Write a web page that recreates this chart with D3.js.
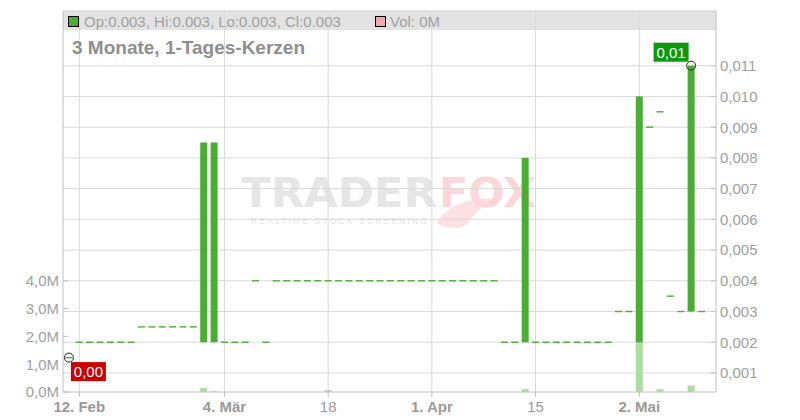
<!DOCTYPE html>
<html><head><meta charset="utf-8">
<script src="https://cdn.jsdelivr.net/npm/d3@7"></script>
<style>html,body{margin:0;padding:0;background:#fff}svg{display:block}</style>
</head><body>
<svg id="chart" width="800" height="420"></svg>
<script>
const dates = ["2025-02-11","2025-02-12","2025-02-13","2025-02-14","2025-02-17","2025-02-18","2025-02-19","2025-02-20","2025-02-21","2025-02-24","2025-02-25","2025-02-26","2025-02-27","2025-02-28",
"2025-03-03","2025-03-04","2025-03-05","2025-03-06","2025-03-07","2025-03-10","2025-03-11","2025-03-12","2025-03-13","2025-03-14","2025-03-17","2025-03-18","2025-03-19","2025-03-20","2025-03-21","2025-03-24","2025-03-25","2025-03-26","2025-03-27","2025-03-28","2025-03-31",
"2025-04-01","2025-04-02","2025-04-03","2025-04-04","2025-04-07","2025-04-08","2025-04-09","2025-04-10","2025-04-11","2025-04-14","2025-04-15","2025-04-16","2025-04-17","2025-04-22","2025-04-23","2025-04-24","2025-04-25","2025-04-28","2025-04-29","2025-04-30",
"2025-05-02","2025-05-05","2025-05-06","2025-05-07","2025-05-08","2025-05-09","2025-05-12"];
const opens = [0.0015,0.002,0.002,0.002,0.002,0.002,0.002,0.0025,0.0025,0.0025,0.0025,0.0025,0.0025,0.002,
0.002,0.002,0.002,0.002,0.004,0.002,0.004,0.004,0.004,0.004,0.004,0.004,0.004,0.004,0.004,0.004,0.004,0.004,0.004,0.004,0.004,
0.004,0.004,0.004,0.004,0.004,0.004,0.004,0.002,0.002,0.002,0.002,0.002,0.002,0.002,0.002,0.002,0.002,0.002,0.003,0.003,
0.002,0.009,0.0095,0.0035,0.003,0.003,0.003];
const highs = [0.0015,0.002,0.002,0.002,0.002,0.002,0.002,0.0025,0.0025,0.0025,0.0025,0.0025,0.0025,0.0085,
0.0085,0.002,0.002,0.002,0.004,0.002,0.004,0.004,0.004,0.004,0.004,0.004,0.004,0.004,0.004,0.004,0.004,0.004,0.004,0.004,0.004,
0.004,0.004,0.004,0.004,0.004,0.004,0.004,0.002,0.002,0.008,0.002,0.002,0.002,0.002,0.002,0.002,0.002,0.002,0.003,0.003,
0.010,0.009,0.0095,0.0035,0.003,0.011,0.003];
const lows = [0.0015,0.002,0.002,0.002,0.002,0.002,0.002,0.0025,0.0025,0.0025,0.0025,0.0025,0.0025,0.002,
0.002,0.002,0.002,0.002,0.004,0.002,0.004,0.004,0.004,0.004,0.004,0.004,0.004,0.004,0.004,0.004,0.004,0.004,0.004,0.004,0.004,
0.004,0.004,0.004,0.004,0.004,0.004,0.004,0.002,0.002,0.002,0.002,0.002,0.002,0.002,0.002,0.002,0.002,0.002,0.003,0.003,
0.002,0.009,0.0095,0.0035,0.003,0.003,0.003];
const closes = [0.0015,0.002,0.002,0.002,0.002,0.002,0.002,0.0025,0.0025,0.0025,0.0025,0.0025,0.0025,0.0085,
0.0085,0.002,0.002,0.002,0.004,0.002,0.004,0.004,0.004,0.004,0.004,0.004,0.004,0.004,0.004,0.004,0.004,0.004,0.004,0.004,0.004,
0.004,0.004,0.004,0.004,0.004,0.004,0.004,0.002,0.002,0.008,0.002,0.002,0.002,0.002,0.002,0.002,0.002,0.002,0.003,0.003,
0.010,0.009,0.0095,0.0035,0.003,0.011,0.003];
const volumes = [0,0,0,0,0,0,0,0,0,0,0,0,0,140000,
30000,0,0,0,0,0,0,0,0,0,0,70000,0,0,0,0,0,0,0,0,0,
0,0,0,0,0,0,0,0,0,100000,0,0,0,0,0,0,0,0,0,0,
1800000,0,100000,0,0,230000,0];
const priceTicks = [0.001,0.002,0.003,0.004,0.005,0.006,0.007,0.008,0.009,0.010,0.011];
const volumeTicks = [0,1000000,2000000,3000000,4000000];
const xTickDates = ["2025-02-12","2025-03-04","2025-03-18","2025-04-01","2025-04-15","2025-05-02"];
const xTickLabels = ["12. Feb","4. Mär","18","1. Apr","15","2. Mai"];
const xTickBold = [true,true,false,true,false,true];
const legendText = "Op:0.003, Hi:0.003, Lo:0.003, Cl:0.003";
const volLegendText = "Vol: 0M";
const titleText = "3 Monate, 1-Tages-Kerzen";

const L = 63, R = 716, T = 11, B = 392;
const svg = d3.select("#chart");
const font = "'Liberation Sans', Arial, sans-serif";
const green = "#4bae34", volGreen = "#aedca5", volGray = "#c6c6c6", grid = "#dadada", axisC = "#c0c0c0", textC = "#a0a0a0";

const x = d3.scaleLinear().domain([-0.57, 62.4]).range([L, R]);
const y = d3.scaleLinear().domain([0, 0.011]).range([403.7, 65.7]);
const yv = d3.scaleLinear().domain([0, 4000000]).range([B, 280.7]);
const fmtP = v => d3.format(".3f")(v).replace(".", ",");
const fmtV = v => d3.format(".1f")(v/1e6).replace(".", ",") + "M";

// legend bar
svg.append("rect").attr("x", L).attr("y", T).attr("width", R-L).attr("height", 19).attr("fill", "#e3e3e3");

// watermark
const wm = svg.append("g");
wm.append("text").attr("x", 241).attr("y", 207).attr("font-family","'DejaVu Sans', sans-serif").attr("font-weight","bold")
  .attr("font-size", 41).attr("fill", "#e6e6e6").attr("textLength", 196).attr("lengthAdjust","spacingAndGlyphs").text("TRADER");
wm.append("path").attr("d","M437,223 C447,205 470,196 500,199 C486,203 474,211 468,224 C458,230 446,229 437,223 Z").attr("fill","#fde0e3");
wm.append("text").attr("x", 439).attr("y", 207).attr("font-family","'DejaVu Sans', sans-serif").attr("font-weight","bold")
  .attr("font-size", 41).attr("fill", "#fdd6da").attr("textLength", 97).attr("lengthAdjust","spacingAndGlyphs").text("FOX");
wm.append("text").attr("x", 251).attr("y", 224).attr("font-family", font).attr("font-size", 8.5).attr("fill", "#e4e4e4")
  .attr("textLength", 176).attr("lengthAdjust","spacing").text("REALTIME STOCK SCREENING");

// horizontal gridlines
svg.append("g").selectAll("line").data(priceTicks).join("line")
  .attr("x1", L).attr("x2", R).attr("y1", d => y(d)).attr("y2", d => y(d)).attr("stroke", grid).attr("stroke-width", 1);
// vertical gridlines
const xTickIdx = xTickDates.map(d => dates.indexOf(d));
svg.append("g").selectAll("line").data(xTickIdx).join("line")
  .attr("x1", d => x(d)).attr("x2", d => x(d)).attr("y1", T).attr("y2", B).attr("stroke", grid).attr("stroke-width", 1);

// axes lines
svg.append("line").attr("x1", L).attr("x2", L).attr("y1", T).attr("y2", B).attr("stroke", axisC);
svg.append("line").attr("x1", R).attr("x2", R).attr("y1", T).attr("y2", B).attr("stroke", axisC);
svg.append("line").attr("x1", L).attr("x2", R).attr("y1", T).attr("y2", T).attr("stroke", "#cfcfcf");
svg.append("line").attr("x1", L).attr("x2", R).attr("y1", B).attr("y2", B).attr("stroke", axisC);

// right axis
const ra = svg.append("g");
ra.selectAll("line").data(priceTicks).join("line").attr("x1", R-5).attr("x2", R).attr("y1", d=>y(d)).attr("y2", d=>y(d)).attr("stroke", axisC);
ra.selectAll("text").data(priceTicks).join("text").attr("x", R+4).attr("y", d=>y(d)).attr("dy","0.36em")
  .attr("font-family", font).attr("font-size", 15).attr("fill", textC).text(fmtP);
// left axis
const la = svg.append("g");
la.selectAll("line").data(volumeTicks).join("line").attr("x1", L).attr("x2", L+5).attr("y1", d=>yv(d)).attr("y2", d=>yv(d)).attr("stroke", axisC);
la.selectAll("text").data(volumeTicks).join("text").attr("x", L-4).attr("y", d=>yv(d)).attr("dy","0.36em").attr("text-anchor","end")
  .attr("font-family", font).attr("font-size", 15).attr("fill", textC).text(fmtV);
// x axis
const xa = svg.append("g");
xa.selectAll("line").data(xTickIdx).join("line").attr("x1", d=>x(d)).attr("x2", d=>x(d)).attr("y1", B).attr("y2", B+5).attr("stroke", axisC);
xa.selectAll("text").data(xTickIdx).join("text").attr("x", d=>x(d)).attr("y", 412).attr("text-anchor","middle")
  .attr("font-family", font).attr("font-size", 15).attr("fill", "#9a9a9a")
  .attr("font-weight", (d,i)=> xTickBold[i] ? "bold" : "normal").text((d,i)=>xTickLabels[i]);

// volume bars
const bw = 7;
const idx = d3.range(dates.length);
svg.append("g").selectAll("rect").data(idx.filter(i => volumes[i] > 0)).join("rect")
  .attr("x", i => x(i) - bw/2).attr("width", bw)
  .attr("y", i => yv(volumes[i])).attr("height", i => B - yv(volumes[i]))
  .attr("fill", i => (i > 0 && closes[i] > closes[i-1]) ? volGreen : (i > 0 && closes[i] < closes[i-1] ? "#f4a9b0" : volGray));

// candles
const cg = svg.append("g");
cg.selectAll("line.wick").data(idx.filter(i => highs[i] > lows[i])).join("line")
  .attr("x1", i=>x(i)).attr("x2", i=>x(i)).attr("y1", i=>y(highs[i])).attr("y2", i=>y(lows[i])).attr("stroke", green);
cg.selectAll("rect").data(idx).join("rect")
  .attr("x", i => x(i) - bw/2).attr("width", bw)
  .attr("y", i => Math.abs(opens[i]-closes[i]) < 1e-9 ? y(closes[i]) - 0.7 : y(Math.max(opens[i], closes[i])))
  .attr("height", i => Math.abs(opens[i]-closes[i]) < 1e-9 ? 1.4 : Math.abs(y(opens[i]) - y(closes[i])))
  .attr("fill", green);

// min / max markers
const minI = d3.minIndex(lows), maxI = d3.maxIndex(highs);
svg.append("circle").attr("cx", x(minI)).attr("cy", y(lows[minI])).attr("r", 4.5).attr("fill","none").attr("stroke","#222").attr("stroke-width",1);
svg.append("circle").attr("cx", x(maxI)).attr("cy", y(highs[maxI])).attr("r", 4.5).attr("fill","none").attr("stroke","#222").attr("stroke-width",1);
const fmt2 = v => d3.format(".2f")(v).replace(".", ",");
function badge(bx, by, txt, col) {
  svg.append("rect").attr("x", bx).attr("y", by).attr("width", 35).attr("height", 19).attr("fill", col);
  svg.append("text").attr("x", bx + 17.5).attr("y", by + 15).attr("text-anchor","middle").attr("font-family", font)
    .attr("font-size", 15).attr("fill", "#fff").text(txt);
}
badge(x(minI) + 2, y(lows[minI]) + 4.5, fmt2(lows[minI]), "#cc0000");
badge(x(maxI) - 37.5, y(highs[maxI]) - 23, fmt2(highs[maxI]), "#0a990a");

// legend
svg.append("rect").attr("x", 68.5).attr("y", 16.5).attr("width", 10).attr("height", 10).attr("fill", green).attr("stroke","#000");
svg.append("text").attr("x", 84).attr("y", 26.5).attr("font-family", font).attr("font-size", 15).attr("fill", textC).text(legendText);
svg.append("rect").attr("x", 375.5).attr("y", 16.5).attr("width", 10).attr("height", 10).attr("fill", "#f0a8b0").attr("stroke","#000");
svg.append("text").attr("x", 390).attr("y", 26.5).attr("font-family", font).attr("font-size", 15).attr("fill", textC).text(volLegendText);
// title
svg.append("text").attr("x", 72).attr("y", 54).attr("font-family", font).attr("font-size", 19).attr("font-weight","bold")
  .attr("fill", "#8e8e8e").text(titleText);
</script>
</body></html>
